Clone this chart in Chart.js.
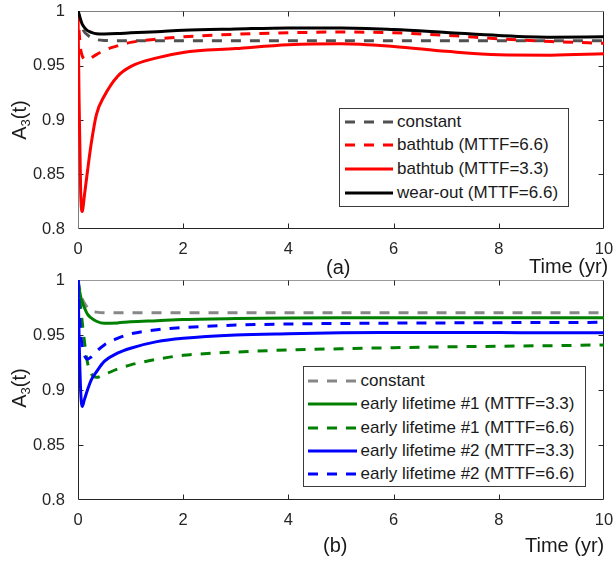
<!DOCTYPE html>
<html><head><meta charset="utf-8">
<script src="https://cdn.jsdelivr.net/npm/chart.js@4"></script>
<style>
body{margin:0;width:615px;height:561px;position:relative;background:#fff;overflow:hidden;font-family:"Liberation Sans",Arial,sans-serif;color:#262626}
canvas{position:absolute;left:0}
#c1{top:0}
#c2{top:270px}
.lbl{position:absolute;white-space:nowrap;line-height:1;font-size:20px;color:#1a1a1a}
.ylab{transform:translate(-50%,-50%) rotate(-90deg)}
.ylab sub{font-size:13px;vertical-align:-4px;line-height:0}
.leg{position:absolute;border:1px solid #3a3a3a;background:#fff;box-sizing:border-box}
.row{position:absolute;left:0;height:22px;display:flex;align-items:center;font-size:17px;white-space:nowrap;color:#1a1a1a}
.row svg{display:block;margin-right:4px}
</style></head>
<body>
<canvas id="c1" width="615" height="275"></canvas>
<canvas id="c2" width="615" height="291"></canvas>
<div class="lbl ylab" style="left:19px;top:120px">A<sub>3</sub>(t)</div>
<div class="lbl ylab" style="left:19px;top:388px">A<sub>3</sub>(t)</div>
<div class="lbl" style="left:326px;top:257px">(a)</div>
<div class="lbl" style="left:529px;top:256px">Time (yr)</div>
<div class="lbl" style="left:323px;top:535px">(b)</div>
<div class="lbl" style="left:525px;top:535px">Time (yr)</div>
<div id="legA" class="leg" style="left:339px;top:108px;width:230px;height:99px"></div>
<div id="legB" class="leg" style="left:303px;top:366px;width:283px;height:121px"></div>
<script>
// ---- data ----
const xTickLabels = ['0','2','4','6','8','10'];
const yTickLabels = ['0.8','0.85','0.9','0.95','1'];
const timeYr = [0, 0.02, 0.05, 0.08, 0.12, 0.18, 0.25, 0.35, 0.5, 0.75, 1, 1.5, 2, 3, 4, 5, 6, 7, 8, 9, 10];

// (a)
const aLabels = ['constant', 'bathtub (MTTF=6.6)', 'bathtub (MTTF=3.3)', 'wear-out (MTTF=6.6)'];
const aConstant = [1, 0.996, 0.990, 0.985, 0.981, 0.978, 0.9755, 0.9738, 0.973, 0.9728, 0.9728, 0.9728, 0.9728, 0.9728, 0.9728, 0.9728, 0.9728, 0.9728, 0.9728, 0.9728, 0.9728];
const aBathtub66 = [1, 0.982, 0.965, 0.959, 0.956, 0.9555, 0.957, 0.960, 0.964, 0.968, 0.9712, 0.9742, 0.9763, 0.9787, 0.980, 0.9807, 0.980, 0.9777, 0.9745, 0.972, 0.9704];
const aBathtub33 = [1, 0.92, 0.835, 0.816, 0.830, 0.853, 0.878, 0.905, 0.922, 0.940, 0.949, 0.957, 0.962, 0.9655, 0.969, 0.970, 0.9675, 0.963, 0.9598, 0.9595, 0.9607];
const aWearOut66 = [1, 0.997, 0.992, 0.988, 0.985, 0.982, 0.9805, 0.9792, 0.979, 0.9793, 0.980, 0.981, 0.9823, 0.9835, 0.9845, 0.9845, 0.983, 0.9803, 0.9775, 0.976, 0.9763];

// (b)
const bLabels = ['constant', 'early lifetime #1 (MTTF=3.3)', 'early lifetime #1 (MTTF=6.6)', 'early lifetime #2 (MTTF=3.3)', 'early lifetime #2 (MTTF=6.6)'];
const bConstant = [1, 0.995, 0.988, 0.983, 0.979, 0.975, 0.972, 0.9708, 0.9703, 0.9703, 0.9703, 0.9703, 0.9703, 0.9703, 0.9703, 0.9703, 0.9703, 0.9703, 0.9703, 0.9703, 0.9703];
const bEarly1_33 = [1, 0.993, 0.985, 0.980, 0.975, 0.969, 0.9655, 0.9625, 0.9606, 0.961, 0.962, 0.963, 0.964, 0.965, 0.9655, 0.9657, 0.9657, 0.9657, 0.9657, 0.9657, 0.9657];
const bEarly1_66 = [1, 0.990, 0.975, 0.962, 0.945, 0.925, 0.915, 0.9115, 0.914, 0.919, 0.9228, 0.928, 0.9315, 0.9345, 0.9364, 0.9375, 0.9385, 0.9392, 0.9398, 0.9403, 0.941];
const bEarly2_33 = [1, 0.95, 0.90, 0.885, 0.891, 0.90, 0.909, 0.9165, 0.926, 0.9335, 0.938, 0.944, 0.947, 0.950, 0.9512, 0.952, 0.9522, 0.9523, 0.9522, 0.952, 0.952];
const bEarly2_66 = [1, 0.975, 0.952, 0.940, 0.932, 0.928, 0.930, 0.935, 0.941, 0.947, 0.951, 0.9548, 0.9568, 0.959, 0.960, 0.9605, 0.9608, 0.961, 0.9612, 0.9614, 0.9615];

// ---- styles ----
const DASH = [10, 9];
const aStyles = [
  {color:'#505050', dash:DASH},
  {color:'#ff0000', dash:DASH},
  {color:'#ff0000', dash:[]},
  {color:'#000000', dash:[]}
];
const bStyles = [
  {color:'#878787', dash:DASH},
  {color:'#008000', dash:[]},
  {color:'#008000', dash:DASH},
  {color:'#0000ff', dash:[]},
  {color:'#0000ff', dash:DASH}
];

function makeDatasets(labels, series, styles){
  const n = series.length;
  return series.map((vals, i) => ({
    label: labels[i],
    data: timeYr.map((t, k) => ({x: t, y: vals[k]})),
    borderColor: styles[i].color,
    borderDash: styles[i].dash,
    borderWidth: 3,
    pointRadius: 0,
    fill: false,
    cubicInterpolationMode: 'monotone',
    borderJoinStyle: 'round',
    order: n - i
  }));
}

const framePlugin = {
  id: 'frame',
  beforeDatasetsDraw(chart, args, opts){
    const {ctx, chartArea: a, scales} = chart;
    const x = scales.x, y = scales.y;
    const L = Math.round(a.left) + 0.5, R = Math.round(a.right) - 0.5;
    const T = Math.round(a.top) + 0.5, B = Math.round(a.bottom) - 0.5;
    ctx.save();
    ctx.lineWidth = 1;
    const seg = (x1,y1,x2,y2,c)=>{ctx.strokeStyle=c;ctx.beginPath();ctx.moveTo(x1,y1);ctx.lineTo(x2,y2);ctx.stroke();};
    seg(L, T, R, T, opts.topColor);
    seg(L, T, L, B, opts.leftColor);
    seg(L, B, R, B, '#262626');
    seg(R, T, R, B, '#262626');
    const tl = 5;
    x.ticks.forEach(t => {
      if (t.value <= x.min || t.value >= x.max) return;
      const px = Math.round(x.getPixelForValue(t.value)) + 0.5;
      seg(px, B, px, B - tl, '#262626');
      seg(px, T, px, T + tl, '#262626');
    });
    y.ticks.forEach(t => {
      if (t.value <= y.min + 1e-9 || t.value >= y.max - 1e-9) return;
      const py = Math.round(y.getPixelForValue(t.value)) + 0.5;
      seg(L, py, L + tl, py, '#262626');
      seg(R, py, R - tl, py, '#262626');
    });
    ctx.restore();
  }
};

function makeChart(id, datasets, padTop, xAxisH, topColor, leftColor){
  return new Chart(document.getElementById(id), {
    type: 'line',
    data: {datasets},
    options: {
      responsive: false,
      animation: false,
      events: [],
      layout: {padding: {top: padTop, right: 11, left: 0, bottom: 0}},
      plugins: {legend: {display: false}, tooltip: {enabled: false}, frame: {topColor, leftColor}},
      scales: {
        x: {
          type: 'linear', min: 0, max: 10,
          grid: {display: false, drawTicks: false},
          border: {display: false},
          ticks: {stepSize: 2, padding: 11, color: '#262626', maxRotation: 0,
            font: {family: '"Liberation Sans", Arial, sans-serif', size: 16.5},
            callback: (v, i) => xTickLabels[i]},
          afterFit: s => { s.height = xAxisH; s.paddingLeft = 0; s.paddingRight = 0; }
        },
        y: {
          type: 'linear', min: 0.8, max: 1,
          grid: {display: false, drawTicks: false},
          border: {display: false},
          ticks: {stepSize: 0.05, padding: 13, color: '#262626',
            font: {family: '"Liberation Sans", Arial, sans-serif', size: 16.5},
            callback: (v, i) => yTickLabels[i]},
          afterFit: s => { s.width = 78; s.paddingTop = 0; s.paddingBottom = 0; }
        }
      }
    },
    plugins: [framePlugin]
  });
}

makeChart('c1', makeDatasets(aLabels, [aConstant, aBathtub66, aBathtub33, aWearOut66], aStyles), 11, 46, '#808080', '#808080');
makeChart('c2', makeDatasets(bLabels, [bConstant, bEarly1_33, bEarly1_66, bEarly2_33, bEarly2_66], bStyles), 10, 61, '#9a9a9a', '#262626');

function buildLegend(id, labels, styles, firstCenter, spacing, sampleLeft, sampleW){
  const box = document.getElementById(id);
  labels.forEach((lab, i) => {
    const row = document.createElement('div');
    row.className = 'row';
    row.style.top = (firstCenter + i*spacing - 11) + 'px';
    row.style.left = sampleLeft + 'px';
    const st = styles[i];
    const svg = `<svg width="${sampleW}" height="6"><line x1="0" y1="3" x2="${sampleW}" y2="3" stroke="${st.color}" stroke-width="3" ${st.dash.length ? 'stroke-dasharray="'+st.dash.join(' ')+'"' : ''}/></svg>`;
    row.innerHTML = svg + '<span></span>';
    row.querySelector('span').textContent = lab;
    box.appendChild(row);
  });
}
buildLegend('legA', aLabels, aStyles, 12.7, 23.6, 5, 48);
buildLegend('legB', bLabels, bStyles, 14, 23.3, 3.5, 49);
</script>
</body></html>
